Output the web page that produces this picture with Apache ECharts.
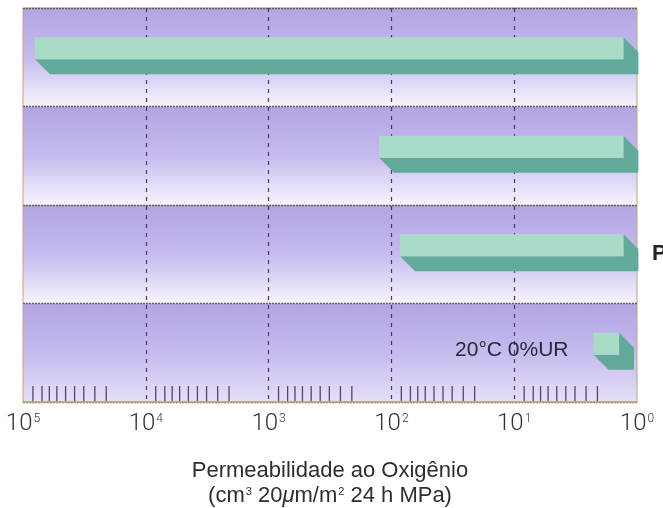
<!DOCTYPE html>
<html>
<head>
<meta charset="utf-8">
<script src="https://cdn.jsdelivr.net/npm/echarts@6/dist/echarts.min.js"></script>
<style>
  html, body { margin: 0; background: #fff; }
  #chart { width: 663px; height: 508px; }
</style>
</head>
<body>
<div id="chart"></div>
<script>
// rows top to bottom (only the "P" of one right-hand label is left in the picture)
const rowLabels = ['', '', 'P', ''];
// ranges of oxygen permeability, one bar per row
const barRows = [0, 1, 2, 3];
const barStart = [80000, 126, 85, 2.26];
const barEnd = [1.29, 1.29, 1.29, 1.4];
const barNotes = ['', '', '', '20°C 0%UR'];
// decades on the axis, and the short marks drawn inside each decade
const decades = [100000, 10000, 1000, 100, 10, 1];
const minorMarks = [8.3, 7.0, 6.1, 5.3, 4.5, 3.8, 3.2, 2.6, 2.1];

const chart = echarts.init(document.getElementById('chart'));

const FACE = '#a9dcc7';
const SIDE = '#62ab9b';
const DEPTH = 15;

const markData = [];
decades.slice(1).forEach(d => minorMarks.forEach(m => markData.push([d * m, 3])));

const option = {
  animation: false,
  grid: {
    left: 23, right: 26, top: 8, bottom: 106,
    containLabel: false,
    outerBoundsMode: 'none',
    show: true, borderColor: '#bba77c', borderWidth: 1
  },
  xAxis: {
    type: 'log',
    logBase: 10,
    min: 1,
    max: 100000,
    inverse: true,
    axisLine: { show: true, lineStyle: { color: '#bdb070', width: 1.5 } },
    axisTick: { show: false },
    minorTick: { show: false },
    splitLine: {
      show: true, showMinLine: false, showMaxLine: false,
      lineStyle: { color: '#4e3470', type: [4, 5], width: 1.2 }
    },
    axisLabel: {
      margin: 9,
      showMinLabel: true, showMaxLabel: true,
      formatter: v => '{b|10}{s|' + Math.round(Math.log10(v)) + '}',
      rich: {
        b: { fontFamily: 'Roboto', fontWeight: 300, fontSize: 24, lineHeight: 26, color: '#333' },
        s: { fontFamily: 'Roboto', fontWeight: 300, fontSize: 12, verticalAlign: 'top', color: '#333', padding: [2, 0, 0, 1] }
      }
    },
    name: '{t|Permeabilidade ao Oxigênio}\n{t|(cm}{s|3}{t| 20}{m|μ}{t|m/m}{s|2}{t| 24 h MPa)}',
    nameLocation: 'middle',
    nameGap: 56,
    nameTextStyle: {
      rich: {
        t: { fontFamily: 'Liberation Sans', fontSize: 22, lineHeight: 25, color: '#2e2e2e' },
        m: { fontFamily: 'Liberation Sans', fontStyle: 'italic', fontSize: 22, lineHeight: 25, color: '#2e2e2e' },
        s: { fontFamily: 'Liberation Sans', fontSize: 11, verticalAlign: 'top', color: '#2e2e2e', padding: [3, 0, 0, 1] }
      }
    }
  },
  yAxis: {
    type: 'category',
    data: rowLabels,
    inverse: true,
    position: 'right',
    axisLine: { show: false },
    axisTick: { show: false },
    axisLabel: {
      margin: 15, fontFamily: 'Liberation Sans', fontWeight: 'bold', fontSize: 22, color: '#222'
    },
    splitLine: { show: true, lineStyle: { color: '#6f5d52', type: [2, 1], width: 1.3 } }
  },
  series: [
    {
      // row backgrounds
      type: 'custom',
      z: -1,
      silent: true,
      data: rowLabels.map((_, i) => [1, i]),
      encode: { x: 0, y: 1 },
      renderItem(params, api) {
        const cs = params.coordSys;
        const c = api.coord([1, api.value(1)]);
        const h = api.size([0, 1])[1];
        const last = api.value(1) === rowLabels.length - 1;
        return {
          type: 'rect',
          shape: { x: cs.x, y: c[1] - h / 2, width: cs.width, height: h },
          style: {
            fill: new echarts.graphic.LinearGradient(0, 0, 0, 1, [
              { offset: 0, color: '#b3a4e3' },
              { offset: 0.5, color: '#c6baee' },
              { offset: 1, color: last ? '#e6dff8' : '#f7f4fd' }
            ])
          }
        };
      }
    },
    {
      // short marks inside each decade
      type: 'custom',
      z: 1,
      silent: true,
      data: markData,
      encode: { x: 0, y: 1 },
      renderItem(params, api) {
        const x = api.coord([api.value(0), 3])[0];
        const yb = params.coordSys.y + params.coordSys.height;
        return {
          type: 'line',
          shape: { x1: x, y1: yb - 1, x2: x, y2: yb - 16 },
          style: { stroke: '#5a3f68', lineWidth: 1.3 }
        };
      }
    },
    {
      // 3-D looking range bars
      type: 'custom',
      z: 3,
      data: barRows.map((r, i) => [r, barStart[i], barEnd[i], i]),
      encode: { x: [1, 2], y: 0 },
      renderItem(params, api) {
        const a = api.coord([api.value(1), api.value(0)]);
        const b = api.coord([api.value(2), api.value(0)]);
        const x0 = Math.min(a[0], b[0]);
        const x1 = Math.max(a[0], b[0]);
        const top = a[1] - 20;
        const bot = top + 22;
        const note = barNotes[api.value(3)];
        const children = [
          {
            type: 'polygon',
            shape: { points: [[x0, bot], [x1, bot], [x1, top], [x1 + DEPTH, top + DEPTH], [x1 + DEPTH, bot + DEPTH], [x0 + DEPTH, bot + DEPTH]] },
            style: { fill: SIDE }
          },
          {
            type: 'rect',
            shape: { x: x0, y: top, width: x1 - x0, height: bot - top },
            style: { fill: FACE }
          }
        ];
        if (note) {
          children.push({
            type: 'text',
            style: {
              text: note, x: x0 - 25, y: a[1] - 3,
              align: 'right', verticalAlign: 'middle',
              fontFamily: 'Liberation Sans', fontSize: 21, fill: '#2a2838'
            }
          });
        }
        return { type: 'group', children };
      }
    }
  ]
};

chart.setOption(option);
</script>
</body>
</html>
